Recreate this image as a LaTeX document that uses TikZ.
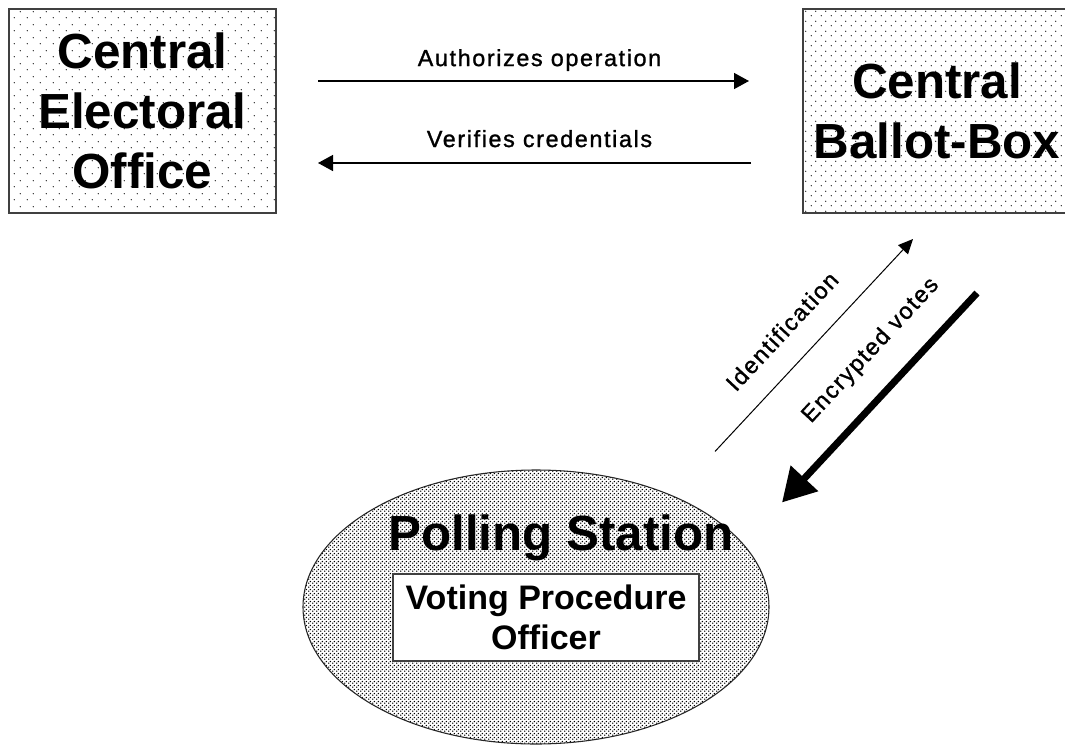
\documentclass[tikz,border=0pt]{standalone}
\usepackage{fontspec}
\setmainfont{Liberation Sans}
\newfontfamily\lblfont[LetterSpace=7, FakeBold=1.2]{Liberation Sans}
\usetikzlibrary{arrows.meta,shapes.geometric,patterns}
\definecolor{boxgray}{HTML}{404040}
\pgfdeclarepatternformonly{sparsedots}{\pgfpoint{0pt}{0pt}}{\pgfpoint{9.75pt}{9.75pt}}{\pgfpoint{9.75pt}{9.75pt}}{%
  \pgfpathcircle{\pgfpoint{1pt}{1pt}}{0.5pt}%
  \pgfpathcircle{\pgfpoint{5.875pt}{5.875pt}}{0.5pt}%
  \pgfusepath{fill}}
\pgfdeclarepatternformonly{mediumdots}{\pgfpoint{0pt}{0pt}}{\pgfpoint{7.5pt}{7.5pt}}{\pgfpoint{7.5pt}{7.5pt}}{%
  \pgfpathcircle{\pgfpoint{1pt}{1pt}}{0.5pt}%
  \pgfpathcircle{\pgfpoint{4.75pt}{4.75pt}}{0.5pt}%
  \pgfusepath{fill}}
\pgfdeclarepatternformonly{checkdots}{\pgfpoint{0pt}{0pt}}{\pgfpoint{3pt}{3pt}}{\pgfpoint{3pt}{3pt}}{%
  \pgfpathcircle{\pgfpoint{0.75pt}{0.75pt}}{0.7pt}%
  \pgfpathcircle{\pgfpoint{2.25pt}{2.25pt}}{0.7pt}%
  \pgfusepath{fill}}
\begin{document}
\begin{tikzpicture}[x=0.75pt,y=-0.75pt,
  bigtext/.style={font=\fontsize{37}{45}\selectfont\bfseries},
  officebox/.style={draw=boxgray, line width=1.5pt, inner sep=0pt, bigtext, align=center,
    minimum width=200.25pt, minimum height=153pt},
  lbl/.style={font=\lblfont\fontsize{17.5}{20}\selectfont, inner sep=0pt},
  thinarrow/.style={line width=1.1pt, -{Triangle[length=11.25pt,width=12pt]}},
  diagthin/.style={line width=0.75pt, -{Triangle[length=11pt,width=10pt]}},
  diagthick/.style={line width=5.25pt, -{Triangle[length=24.75pt,width=27pt]}}]
\useasboundingbox (0,0) rectangle (1065,747);
\clip (0,0) rectangle (1065,747);
% boxes
\node[officebox, pattern=sparsedots] (ceo) at (142.5,111) {Central\\Electoral\\Office};
\node[officebox, pattern=mediumdots, minimum width=201pt] (cbb) at (937,111) {Central\\Ballot-Box};
% polling station
\node[ellipse, draw=black!85, line width=0.8pt, pattern=checkdots,
      minimum width=349.5pt, minimum height=205.5pt, inner sep=0pt] (ps) at (536,607) {};
\node[bigtext, anchor=base, inner sep=0pt] (pst) at (561,550) {Polling Station};
\node[draw=boxgray, line width=1.2pt, fill=white, minimum width=229.5pt, minimum height=65.25pt,
      inner sep=0pt, font=\fontsize{25.5}{30}\selectfont\bfseries, align=center]
      (vpo) at (546,617.5) {Voting Procedure\\Officer};
% horizontal arrows
\draw[thinarrow, shorten <=30.75pt, shorten >=39.75pt]
  ([yshift=22.5pt]ceo.east) -- node[lbl, above=7pt] {Authorizes operation} ([yshift=22.5pt]cbb.west);
\draw[thinarrow, shorten <=38.25pt, shorten >=30.75pt]
  ([yshift=-39pt]cbb.west) -- node[lbl, above=11.25pt] {Verifies credentials} ([yshift=-39pt]ceo.east);
% diagonal arrows
\draw[diagthin] ([xshift=134.25pt,yshift=13.5pt]ps.north) --
  node[lbl, sloped, above=18pt, pos=0.46] {Identification}
  ([xshift=-18pt,yshift=-18.75pt]cbb.south);
\draw[diagthick] ([xshift=30pt,yshift=-59.25pt]cbb.south) --
  node[lbl, sloped, above=18pt, pos=0.4] {Encrypted votes}
  ([xshift=184.5pt,yshift=-24.75pt]ps.north);
\end{tikzpicture}
\end{document}
